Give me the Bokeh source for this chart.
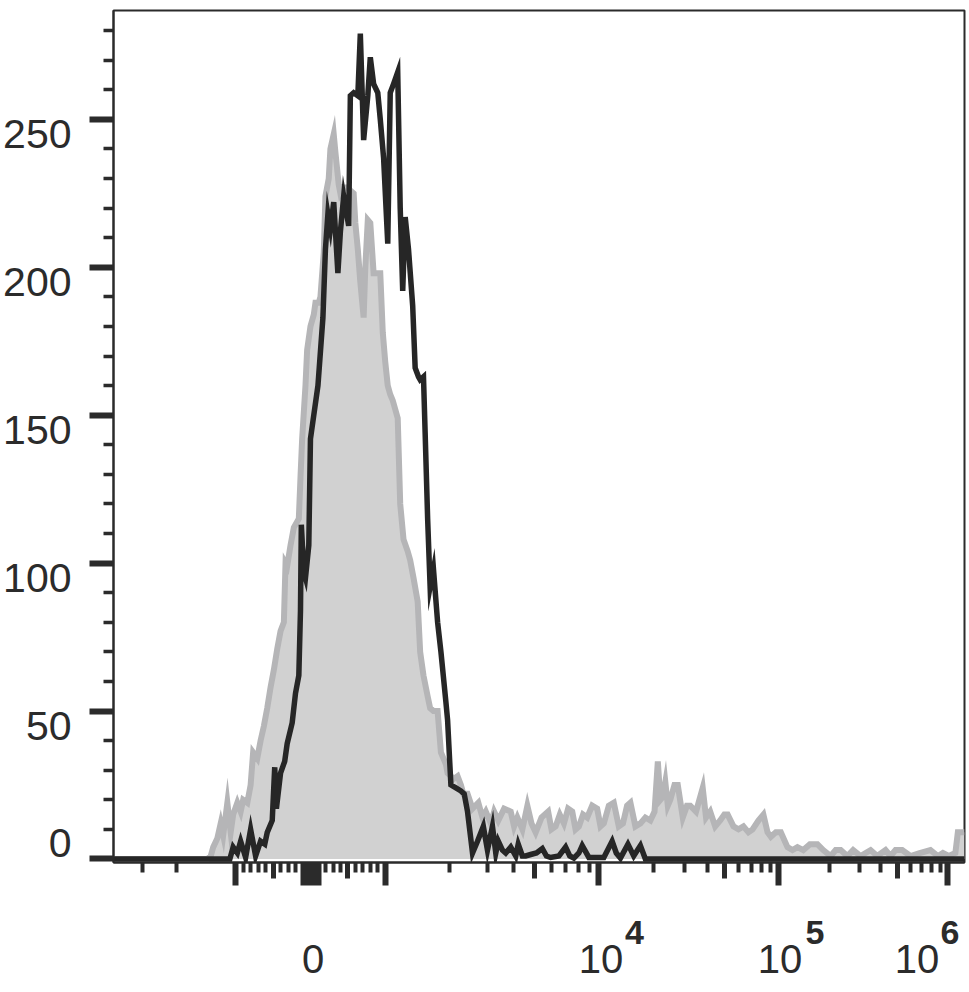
import math
from bokeh.plotting import figure
from bokeh.models import FixedTicker, LinearAxis, CustomJSTickFormatter, Range1d
from bokeh.embed import file_html
from bokeh.resources import INLINE

# ---------------- data (display channel, event count) ----------------
# stained sample (black line)
black_ch = [0, 140, 144, 149, 153, 159, 165, 171, 177, 182, 185, 191, 194, 196, 201, 206,
            209, 215, 219, 223, 225, 226, 229, 231, 235, 237, 241, 246, 252, 255, 258, 261,
            265, 270, 273, 277, 283, 285, 289, 294, 297, 301, 306, 309, 313, 318, 321, 325,
            330, 333, 337, 342, 345, 348, 351, 355, 360, 363, 367, 369, 373, 375, 378, 381,
            385, 390, 394, 400, 402, 406, 412, 418, 422, 426, 432, 438, 445, 450, 456, 460,
            463, 468, 472, 478, 484, 487, 492, 496, 502, 509, 516, 521, 526, 536, 544, 549,
            554, 560, 564, 572, 580, 590, 600, 605, 610, 619, 626, 634, 640, 1024]
black_count = [0, 0, 4, 2, 6, 0.5, 10, 1, 6, 5, 9, 13, 31, 17, 29, 33,
               39, 46, 56, 62, 84, 113, 97, 95, 106, 142, 150, 160, 183, 206, 218, 213,
               222, 198, 212, 224, 214, 258, 259, 258, 279, 243, 258, 271, 262, 259, 250, 237,
               208, 259, 262, 266, 220, 192, 217, 206, 187, 166, 163, 162, 163, 144, 115, 92,
               98, 80, 70, 53, 47, 25, 24, 23, 22, 16, 2, 6, 11, 3, 11, 2,
               6, 3, 2, 4, 1, 5, 1, 1, 1.5, 2, 3.5, 1, 0.5, 1, 4, 1,
               0.3, 2, 4.5, 0.5, 0.5, 0.5, 6, 2, 0.3, 5, 1, 4.5, 0, 0]

# control sample (grey filled)
gray_ch = [0, 113, 117, 120, 125, 129, 132, 137, 141, 144, 149, 153, 156, 161, 165, 168,
           173, 177, 181, 185, 189, 193, 197, 201, 205, 207, 209, 213, 217, 223, 225, 227,
           231, 233, 237, 241, 243, 247, 249, 253, 255, 259, 261, 265, 267, 271, 273, 277,
           282, 285, 289, 291, 294, 297, 301, 303, 306, 309, 313, 318, 321, 324, 327, 330,
           333, 336, 339, 342, 345, 349, 354, 357, 361, 366, 369, 373, 378, 381, 385, 390,
           394, 400, 402, 406, 409, 414, 418, 421, 426, 432, 439, 444, 448, 454, 458, 463,
           470, 478, 482, 486, 492, 498, 503, 508, 515, 523, 527, 532, 537, 542, 547, 552,
           556, 560, 565, 570, 576, 582, 586, 590, 596, 602, 608, 613, 618, 622, 628, 634,
           640, 646, 651, 655, 658, 661, 664, 667, 670, 675, 679, 685, 690, 694, 701, 709,
           713, 718, 724, 730, 735, 739, 746, 752, 758, 764, 769, 776, 782, 787, 791, 797,
           803, 811, 817, 823, 830, 838, 847, 854, 863, 869, 875, 883, 890, 899, 905, 911,
           919, 929, 935, 941, 949, 959, 970, 983, 992, 998, 1005, 1013, 1016, 1024]
gray_count = [0, 0, 1, 4, 7, 12, 8, 19, 9, 15, 19, 16, 20, 19, 25, 36,
              34, 40, 45, 51, 58, 64, 71, 77, 80, 100, 99, 106, 112, 115, 129, 142,
              160, 172, 180, 184, 188, 188, 190, 205, 224, 230, 240, 245, 239, 228, 225, 227,
              227, 226, 225, 215, 206, 195, 183, 200, 216, 215, 198, 198, 198, 178, 168, 160,
              157, 155, 152, 149, 120, 108, 104, 101, 95, 87, 70, 62, 55, 51, 50, 50,
              36, 32, 29, 28, 27, 28, 25, 22, 22, 17, 19, 14, 16, 12, 16, 13,
              17, 16, 11, 14, 10, 18, 12, 9, 14, 16, 10, 11, 15, 12, 17, 16,
              10, 11, 15, 14, 18, 17, 11, 12, 18, 19, 11, 12, 18, 19, 11, 12,
              14, 13, 16, 33, 20, 21, 26, 18, 20, 25, 25, 14, 18, 18, 16, 24,
              14, 16, 11, 13, 15, 15, 11, 10, 11, 9, 10, 13, 15, 9, 7.5, 9,
              9, 4, 3, 4, 3, 5, 5, 3, 1, 3, 3, 1, 3, 1, 2, 3,
              1, 3, 1, 3, 3, 1, 2, 3, 1, 2, 1, 2, 9, 9]

# y axis ticks (counts)
y_major = [0, 50, 100, 150, 200, 250]
y_minor = [10, 20, 30, 40, 60, 70, 80, 90, 110, 120, 130, 140, 160, 170, 180, 190,
           210, 220, 230, 240, 260, 270, 280]

# x axis ticks (fluorescence values)
x_long = [-1000, -100, -50, 0, 50, 100, 1000, 1e4, 1e5, 1e6]
x_mid = [-500, 500, 5e3, 5e4, 5e5]
x_short = ([-3000, -2000] + [-v for v in (900, 800, 700, 600, 400, 300, 200)]
           + [200, 300, 400, 600, 700, 800, 900]
           + [m * 10 ** k for k in (3, 4, 5) for m in (2, 3, 4, 6, 7, 8, 9)])
x_label_vals = [0, 1e4, 1e5, 1e6]
x_label_text = ["0", "10", "10", "10"]
x_sup_vals = [1e4, 1e5, 1e6]
x_sup_text = ["4", "5", "6"]

# ---------------- display transform (biexponential-like) ----------------
ZERO_CH = 237.1
LIN_SLOPE = 0.0901                # channels per unit in linear zone
DECADE_W = {3: 256.9, 4: 216.6, 5: 203.4}
NEG_DECADE_W = 235.0
CH_PER_PX = 1024 / 851


def to_ch(v):
    if -1000 <= v <= 1000:
        return ZERO_CH + LIN_SLOPE * v
    if v > 1000:
        c = ZERO_CH + LIN_SLOPE * 1000
        d = math.log10(v)
        k = 3
        while d > k + 1 + 1e-9:
            c += DECADE_W[k]
            k += 1
        return c + DECADE_W[k] * (d - k)
    return ZERO_CH - LIN_SLOPE * 1000 - NEG_DECADE_W * math.log10(-v / 1000)


# label placement nudges (pixels)
x_label_nudge = [2.5, 2, 1, -31]
x_sup_nudge = [35.5, 36, 2]
Y_PER_PX = 1 / 2.958
y_label_nudge = [15.5 * Y_PER_PX] + [-15 * Y_PER_PX] * 5   # 0 sits above its tick, others hang below

# ---------------- styling ----------------
INK = "#2b2b2b"
FONT = "Liberation Sans"
Y0, Y1 = -1.2, 286.8

p = figure(frame_width=851, frame_height=852, x_range=Range1d(0, 1024), y_range=Range1d(Y0, Y1),
           output_backend="svg", toolbar_location=None, tools="",
           min_border_left=113, min_border_top=10, min_border_right=3, min_border_bottom=128,
           x_axis_type=None, y_axis_type=None)
p.grid.visible = False
p.outline_line_color = INK
p.outline_line_width = 2
p.background_fill_color = "white"
p.border_fill_color = "white"

empty = CustomJSTickFormatter(code="return ''")

# ---- left side: tick axis, then label axis stacked outside it
yax = LinearAxis(ticker=FixedTicker(ticks=y_major, minor_ticks=y_minor), formatter=empty,
                 axis_line_color=INK, axis_line_width=2,
                 major_tick_out=24, major_tick_in=0, major_tick_line_width=6, major_tick_line_color=INK,
                 minor_tick_out=10, minor_tick_in=0, minor_tick_line_width=3.5, minor_tick_line_color=INK,
                 major_label_standoff=0)
p.add_layout(yax, "left")

ylab_pos = [v + n for v, n in zip(y_major, y_label_nudge)]
ylab = LinearAxis(ticker=FixedTicker(ticks=ylab_pos, minor_ticks=[]),
                  major_label_overrides={pos: str(v) for pos, v in zip(ylab_pos, y_major)},
                  axis_line_color=None, major_tick_line_color=None, minor_tick_line_color=None,
                  major_tick_out=0, major_tick_in=0, minor_tick_out=0, minor_tick_in=0,
                  major_label_standoff=18,
                  major_label_text_font=FONT, major_label_text_font_size="41px",
                  major_label_text_color=INK)
p.add_layout(ylab, "left")

# ---- bottom side
# medium + short ticks, with the axis line
xmid = LinearAxis(ticker=FixedTicker(ticks=[to_ch(v) for v in x_mid],
                                     minor_ticks=[to_ch(v) for v in x_short]),
                  formatter=empty, axis_line_color=INK, axis_line_width=2,
                  major_tick_out=16, major_tick_in=0, major_tick_line_width=5, major_tick_line_color=INK,
                  minor_tick_out=10, minor_tick_in=0, minor_tick_line_width=4, minor_tick_line_color=INK,
                  major_label_standoff=0)
p.add_layout(xmid, "below")

# long ticks: this axis sits 16px lower, ticks reach back up to the frame
xlong = LinearAxis(ticker=FixedTicker(ticks=[to_ch(v) for v in x_long], minor_ticks=[]),
                   formatter=empty, axis_line_color=None,
                   major_tick_out=7, major_tick_in=16, major_tick_line_width=6, major_tick_line_color=INK,
                   minor_tick_out=0, minor_tick_in=0, minor_tick_line_color=None,
                   major_label_standoff=0)
p.add_layout(xlong, "below")

# exponents
xsup_pos = [to_ch(v) + n * CH_PER_PX for v, n in zip(x_sup_vals, x_sup_nudge)]
xsup = LinearAxis(ticker=FixedTicker(ticks=xsup_pos, minor_ticks=[]),
                  major_label_overrides={pos: t for pos, t in zip(xsup_pos, x_sup_text)},
                  axis_line_color=None, major_tick_line_color=None, minor_tick_line_color=None,
                  major_tick_out=0, major_tick_in=0, minor_tick_out=0, minor_tick_in=0,
                  major_label_standoff=35,
                  major_label_text_font=FONT, major_label_text_font_size="34px",
                  major_label_text_font_style="bold", major_label_text_color=INK)
p.add_layout(xsup, "below")

# "0" and "10" labels (pulled back up alongside the exponents)
xlab_pos = [to_ch(v) + n * CH_PER_PX for v, n in zip(x_label_vals, x_label_nudge)]
xlab = LinearAxis(ticker=FixedTicker(ticks=xlab_pos, minor_ticks=[]),
                  major_label_overrides={pos: t for pos, t in zip(xlab_pos, x_label_text)},
                  axis_line_color=None, major_tick_line_color=None, minor_tick_line_color=None,
                  major_tick_out=0, major_tick_in=0, minor_tick_out=0, minor_tick_in=0,
                  major_label_standoff=-2,
                  major_label_text_font=FONT, major_label_text_font_size="40px",
                  major_label_text_color=INK)
p.add_layout(xlab, "below")

# ---- histograms
p.varea(x=gray_ch, y1=[0] * len(gray_ch), y2=gray_count, fill_color="#d1d1d1")
p.line(x=gray_ch, y=gray_count, line_color="#b5b5b7", line_width=6, line_join="miter")
p.line(x=black_ch, y=black_count, line_color="#262626", line_width=5.5, line_join="miter")

open("out.html", "w").write(file_html(p, INLINE))
